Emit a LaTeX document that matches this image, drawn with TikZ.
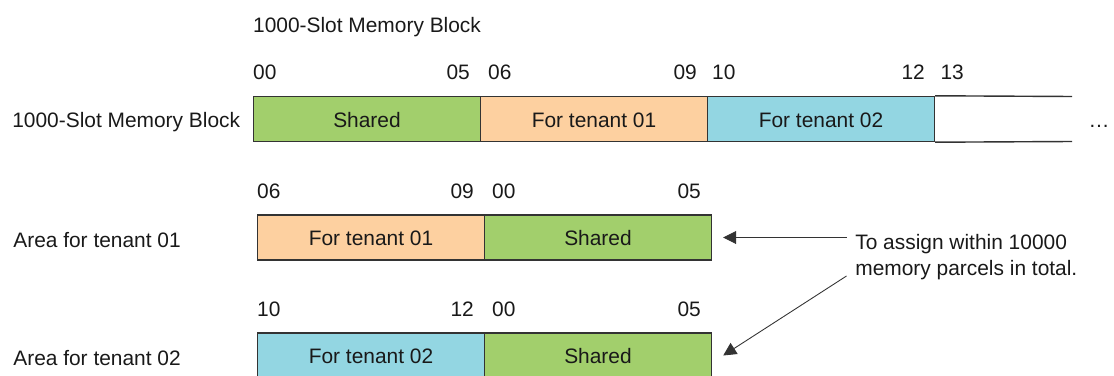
\documentclass[tikz,border=0pt]{standalone}
\usepackage{fontspec}
\setmainfont{Liberation Sans}
\usepackage{tikz}
\usetikzlibrary{arrows.meta, positioning, calc}

\definecolor{sharedgreen}{RGB}{162,207,108}
\definecolor{tenantone}{RGB}{253,208,160}
\definecolor{tenanttwo}{RGB}{147,214,226}

\begin{document}
\begin{tikzpicture}[
  font=\fontsize{11.9}{14.8}\selectfont,
  box/.style={draw=black!80, line width=0.8pt, minimum width=4.54cm, minimum height=0.9cm, text height=0.95em, text depth=0pt, text=black!90},
  num/.style={inner sep=0pt, text=black!90},
  lbl/.style={inner sep=0pt, anchor=base west, text=black!90},
  pointer/.style={draw=black!80, line width=0.5pt, -{Triangle[length=2.6mm, width=2.6mm]}},
]
\useasboundingbox (0,0) rectangle (22.28,7.5);

% whole memory block
\node[box, fill=sharedgreen] (S1) at (7.34,5.12)  {Shared};
\node[box, fill=tenantone]   (A1) at (11.88,5.12) {For tenant 01};
\node[box, fill=tenanttwo]   (B1) at (16.42,5.12) {For tenant 02};
\coordinate (endtop) at (21.44,5.57);
\coordinate (endbot) at (21.44,4.67);
\draw[black!80, line width=0.8pt] (B1.north east) -- (endtop) (B1.south east) -- (endbot);
\node[num, anchor=base east] (dots) at (22.2,4.94) {…};

\node[lbl] (title) at ([yshift=12.7mm]S1.north west) {1000-Slot Memory Block};
\node[lbl] (blocklbl) at (0.24,4.94) {1000-Slot Memory Block};

\node[num, anchor=base west] at ([yshift=3.3mm]S1.north west) {00};
\node[num, anchor=base east] at ([xshift=-2.2mm, yshift=3.3mm]S1.north east) {05};
\node[num, anchor=base west] at ([xshift=1.6mm, yshift=3.3mm]A1.north west) {06};
\node[num, anchor=base east] at ([xshift=-2.2mm, yshift=3.3mm]A1.north east) {09};
\node[num, anchor=base west] at ([xshift=1mm, yshift=3.3mm]B1.north west) {10};
\node[num, anchor=base east] at ([xshift=-2mm, yshift=3.3mm]B1.north east) {12};
\node[num, anchor=base west] at ([xshift=1mm, yshift=3.3mm]B1.north east) {13};

% tenant 01
\node[box, fill=tenantone]   (A2) at (7.42,2.75)  {For tenant 01};
\node[box, fill=sharedgreen] (S2) at (11.96,2.75) {Shared};
\node[lbl] (arealbl1) at (0.26,2.56) {Area for tenant 01};

\node[num, anchor=base west] at ([yshift=3.2mm]A2.north west) {06};
\node[num, anchor=base east] at ([xshift=-2.2mm, yshift=3.2mm]A2.north east) {09};
\node[num, anchor=base west] at ([xshift=1.6mm, yshift=3.2mm]S2.north west) {00};
\node[num, anchor=base east] at ([xshift=-2.2mm, yshift=3.2mm]S2.north east) {05};

% tenant 02
\node[box, fill=tenanttwo]   (B3) at (7.42,0.39)  {For tenant 02};
\node[box, fill=sharedgreen] (S3) at (11.96,0.39) {Shared};
\node[lbl] (arealbl2) at (0.26,0.2) {Area for tenant 02};

\node[num, anchor=base west] at ([yshift=3.2mm]B3.north west) {10};
\node[num, anchor=base east] at ([xshift=-2.2mm, yshift=3.2mm]B3.north east) {12};
\node[num, anchor=base west] at ([xshift=1.6mm, yshift=3.2mm]S3.north west) {00};
\node[num, anchor=base east] at ([xshift=-2.2mm, yshift=3.2mm]S3.north east) {05};

% note
\node[num, anchor=north west, align=left] (note) at (17.1,2.82) {To assign within 10000\\memory parcels in total.};
\draw[pointer] ([xshift=-1.7mm]note.west |- S2.east) -- ([xshift=2.2mm]S2.east);
\draw[pointer] ([xshift=-1.7mm, yshift=-8.4mm]note.north west) -- ([xshift=2.2mm]S3.east);
\end{tikzpicture}
\end{document}
